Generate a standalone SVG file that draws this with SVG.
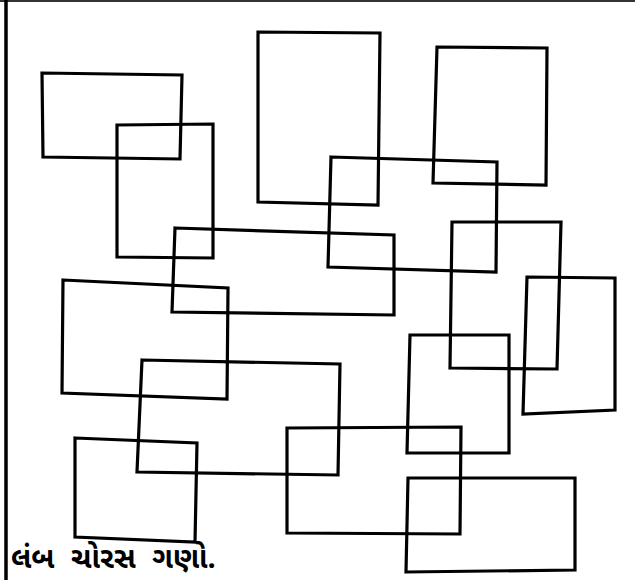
<svg xmlns="http://www.w3.org/2000/svg" width="635" height="580" viewBox="0 0 635 580">
<style>
.r{fill:none;stroke:#000;stroke-width:3.2;stroke-linejoin:miter;stroke-linecap:square}
.t{font-family:"Noto Sans Gujarati","Noto Sans","Lohit Gujarati",sans-serif;font-weight:bold;font-size:29px;word-spacing:9px;fill:#000}
</style>
<rect width="635" height="580" fill="#fff"/>
<line x1="0" y1="1" x2="635" y2="1" stroke="#333" stroke-width="2"/>
<line x1="6" y1="0" x2="6" y2="580" stroke="#000" stroke-width="3.5"/>
<g id="nodes">
<g id="r1"><polygon class="r" points="42,73 182,75 180,159 43,157"/></g>
<g id="r2"><polygon class="r" points="117,125 213,124 213,258 117,257"/></g>
<g id="r3"><polygon class="r" points="258,32 380,33 378,205 258,202"/></g>
<g id="r4"><polygon class="r" points="437,47 547,48 546,185 433,183"/></g>
<g id="r5"><polygon class="r" points="331,157 497,162 496,272 328,267"/></g>
<g id="r6"><polygon class="r" points="175,228 394,235 394,315 172,312"/></g>
<g id="r7"><polygon class="r" points="452,222 561,222 557,369 450,368"/></g>
<g id="r8"><polygon class="r" points="527,277 615,278 615,410 523,414"/></g>
<g id="r9"><polygon class="r" points="63,280 228,288 227,399 62,393"/></g>
<g id="r10"><polygon class="r" points="142,360 340,364 338,475 137,472"/></g>
<g id="r11"><polygon class="r" points="75,438 197,443 195,542 75,537"/></g>
<g id="r12"><polygon class="r" points="287,428 461,427 460,534 287,533"/></g>
<g id="r13"><polygon class="r" points="410,335 509,335 509,453 407,453"/></g>
<g id="r14"><polygon class="r" points="408,478 575,478 575,570 406,572"/></g>
</g>
<g id="connectors"></g>
<text class="t" x="11" y="568">લંબ ચોરસ ગણો.</text>
</svg>
